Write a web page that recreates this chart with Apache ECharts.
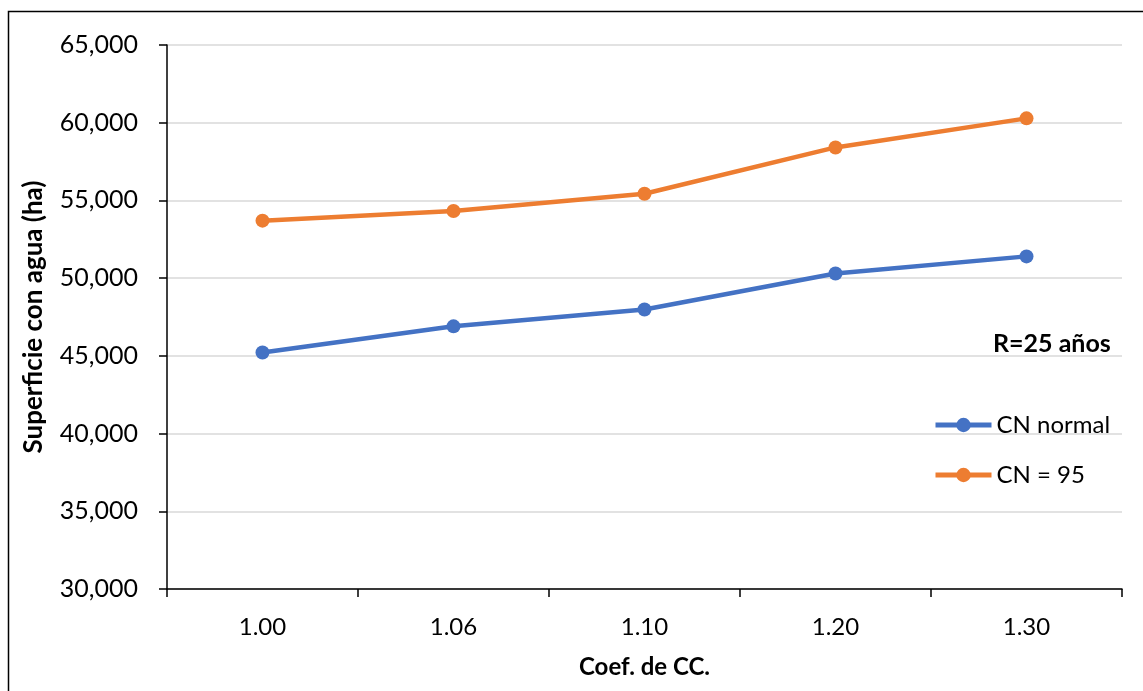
<!DOCTYPE html>
<html>
<head>
<meta charset="utf-8">
<script src="https://cdn.jsdelivr.net/npm/echarts@6/dist/echarts.min.js"></script>
<style>
html,body{margin:0;padding:0;background:#fff;}
#main{width:1143px;height:691px;}
</style>
</head>
<body>
<div id="main"></div>
<script>
const categories = ['1.00', '1.06', '1.10', '1.20', '1.30'];
const cnNormal = [45220, 46900, 47980, 50300, 51400];
const cn95 = [53700, 54320, 55430, 58410, 60280];
const seriesNames = ['CN normal', 'CN = 95'];
const yTicks = { min: 30000, max: 65000, interval: 5000 };
const xTitle = 'Coef. de CC.';
const yTitle = 'Superficie con agua (ha)';
const note = 'R=25 años';

const FONT = 'Lato, "Open Sans", sans-serif';
const chart = echarts.init(document.getElementById('main'), null, { renderer: 'canvas' });

chart.setOption({
  backgroundColor: '#ffffff',
  animation: false,
  grid: { left: 167, right: 21, top: 45, bottom: 102, containLabel: false },
  xAxis: {
    type: 'category',
    data: categories,
    boundaryGap: true,
    name: xTitle,
    nameLocation: 'middle',
    nameGap: 66,
    nameTextStyle: { fontFamily: FONT, fontWeight: 'bold', fontSize: 24, color: '#000' },
    axisLine: { lineStyle: { color: '#000', width: 1.5 } },
    axisTick: { show: true, length: 8, alignWithLabel: false, lineStyle: { color: '#000', width: 1.5 } },
    axisLabel: { fontFamily: FONT, fontSize: 24, color: '#000', margin: 26 },
    splitLine: { show: false }
  },
  yAxis: {
    type: 'value',
    min: yTicks.min,
    max: yTicks.max,
    interval: yTicks.interval,
    name: yTitle,
    nameLocation: 'middle',
    nameGap: 120,
    nameTextStyle: { fontFamily: FONT, fontWeight: 'bold', fontSize: 26, color: '#000' },
    axisLine: { show: true, lineStyle: { color: '#000', width: 1.5 } },
    axisTick: { show: true, length: 8, lineStyle: { color: '#000', width: 1.5 } },
    axisLabel: {
      fontFamily: FONT, fontSize: 25, color: '#000', margin: 29,
      formatter: v => v.toLocaleString('en-US')
    },
    splitLine: { show: true, lineStyle: { color: '#D9D9D9', width: 1.5 } }
  },
  legend: {
    orient: 'vertical',
    left: 933,
    top: 413,
    padding: 0,
    itemWidth: 56,
    itemHeight: 18,
    itemGap: 26,
    lineStyle: { width: 5 },
    textStyle: { fontFamily: FONT, fontSize: 24, color: '#000' },
    data: seriesNames
  },
  graphic: [
    {
      type: 'rect',
      shape: { x: 8.5, y: 11.5, width: 1400, height: 900 },
      style: { fill: 'none', stroke: '#000', lineWidth: 1.5 },
      silent: true,
      z: 100
    },
    {
      type: 'text',
      left: 993,
      top: 331,
      style: { text: note, fontFamily: FONT, fontWeight: 'bold', fontSize: 25, fill: '#000' }
    }
  ],
  series: [
    {
      name: seriesNames[0],
      type: 'line',
      data: cnNormal,
      symbol: 'circle',
      symbolSize: 14,
      showAllSymbol: true,
      lineStyle: { color: '#4472C4', width: 4.5 },
      itemStyle: { color: '#4472C4' }
    },
    {
      name: seriesNames[1],
      type: 'line',
      data: cn95,
      symbol: 'circle',
      symbolSize: 14,
      showAllSymbol: true,
      lineStyle: { color: '#ED7D31', width: 4.5 },
      itemStyle: { color: '#ED7D31' }
    }
  ]
});
</script>
</body>
</html>
